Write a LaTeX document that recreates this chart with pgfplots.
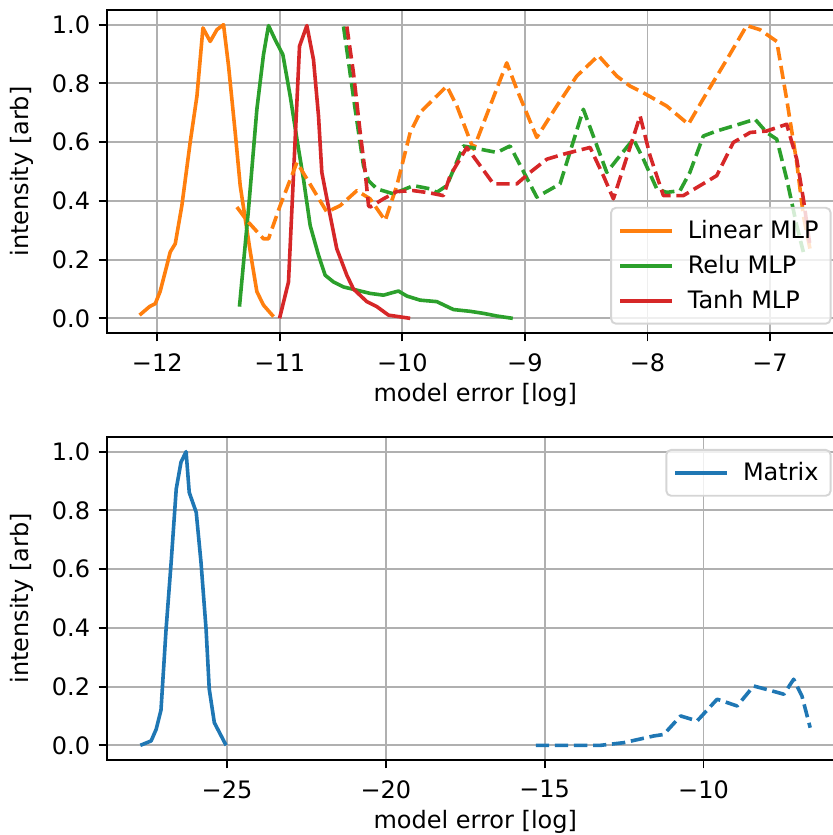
\documentclass[border=0pt]{standalone}
\usepackage{pgfplots}
\pgfplotsset{compat=1.18}
\usepackage{fontspec}
\setmainfont{DejaVu Sans}
\definecolor{tabblue}{HTML}{1F77B4}
\definecolor{taborange}{HTML}{FF7F0E}
\definecolor{tabgreen}{HTML}{2CA02C}
\definecolor{tabred}{HTML}{D62728}
\definecolor{gridgray}{HTML}{B0B0B0}
\definecolor{legendgray}{HTML}{D5D5D5}
\begin{document}
\begin{tikzpicture}[font=\fontsize{10}{12}\selectfont]
\pgfplotsset{
  mpl/.style={
    scale only axis, width=306.9pt, height=134.6pt,
    axis line style={line width=0.8pt, black},
    grid=major, major grid style={line width=0.8pt, color=gridgray},
    tick align=outside, tick pos=left, major tick length=3.5pt,
    every tick/.style={line width=0.8pt, black},
    ymin=-0.05, ymax=1.05, ytick={0,0.2,0.4,0.6,0.8,1.0},
    yticklabels={0.0,0.2,0.4,0.6,0.8,1.0},
    xticklabel style={yshift=-1.5pt},
    ylabel={intensity [arb]}, xlabel={model error [log]},
    every axis y label/.style={at={(axis description cs:-0.1154,0.5)}, rotate=90, anchor=center},
    every axis x label/.style={at={(axis description cs:0.5,-0.192)}, anchor=center},
    legend image code/.code={\draw[##1, line width=1.5pt] (0pt,0pt) -- (21.7pt,0pt);},
    legend cell align=left,
    every axis plot/.append style={line width=1.5pt, line join=round},
    mpldash/.style={dash pattern=on 5.55pt off 2.4pt},
  },
}
\begin{axis}[mpl, at={(0pt,0pt)}, anchor=north west,
  xmin=-12.41, xmax=-6.40,
  xtick={-12,-11,-10,-9,-8,-7},
  xticklabels={−12,−11,−10,−9,−8,−7},
  legend style={at={(axis description cs:1,0)}, anchor=south east, xshift=-5pt, yshift=3.5pt,
    draw=legendgray, line width=0.8pt, rounded corners=2pt, fill=white, fill opacity=0.8, text opacity=1,
    inner xsep=3pt, inner ysep=3pt, row sep=1.5pt, column sep=3.75pt},
]
% Linear MLP solid
\addplot[taborange] coordinates {
(-12.144,0.011) (-12.063,0.04) (-12.016,0.05) (-11.976,0.092) (-11.921,0.181) (-11.894,0.226) (-11.853,0.254) (-11.799,0.384) (-11.731,0.600) (-11.676,0.757) (-11.627,0.989) (-11.568,0.943) (-11.513,0.983) (-11.459,1.0) (-11.418,0.859) (-11.364,0.634) (-11.323,0.452) (-11.282,0.339) (-11.241,0.227) (-11.187,0.091) (-11.133,0.045) (-11.051,0.006)
};
\addlegendentry{Linear MLP}
% Relu MLP solid
\addplot[tabgreen] coordinates {
(-11.329,0.040) (-11.255,0.373) (-11.187,0.712) (-11.133,0.898) (-11.092,0.997) (-11.038,0.949) (-10.975,0.898) (-10.915,0.757) (-10.860,0.610) (-10.807,0.475) (-10.752,0.316) (-10.684,0.215) (-10.630,0.147) (-10.562,0.124) (-10.480,0.107) (-10.371,0.096) (-10.263,0.085) (-10.154,0.079) (-10.086,0.087) (-10.032,0.093) (-9.963,0.076) (-9.855,0.062) (-9.719,0.057) (-9.583,0.030) (-9.447,0.024) (-9.338,0.017) (-9.229,0.008) (-9.099,0.0)
};
\addlegendentry{Relu MLP}
% Tanh MLP solid
\addplot[tabred] coordinates {
(-11.002,0.0) (-10.929,0.124) (-10.839,0.927) (-10.779,0.997) (-10.725,0.881) (-10.684,0.689) (-10.657,0.497) (-10.589,0.35) (-10.535,0.237) (-10.453,0.147) (-10.399,0.10) (-10.290,0.057) (-10.208,0.04) (-10.113,0.011) (-9.936,0.0)
};
\addlegendentry{Tanh MLP}
% dashed
\addplot[taborange, mpldash, forget plot] coordinates {
(-11.350,0.379) (-11.268,0.333) (-11.133,0.271) (-11.092,0.271) (-10.997,0.384) (-10.860,0.531) (-10.779,0.475) (-10.616,0.362) (-10.507,0.384) (-10.371,0.435) (-10.263,0.407) (-10.140,0.333) (-10.045,0.452) (-9.936,0.633) (-9.855,0.701) (-9.637,0.791) (-9.555,0.723) (-9.420,0.576) (-9.148,0.870) (-9.066,0.780) (-8.903,0.616) (-8.740,0.723) (-8.577,0.825) (-8.400,0.895) (-8.250,0.825) (-8.142,0.791) (-8.033,0.768) (-7.843,0.723) (-7.666,0.661) (-7.516,0.768) (-7.353,0.881) (-7.190,0.997) (-7.082,0.983) (-6.945,0.943) (-6.864,0.746) (-6.782,0.531) (-6.728,0.350) (-6.674,0.237)
};
\addplot[tabgreen, mpldash, forget plot] coordinates {
(-10.480,0.994) (-10.385,0.712) (-10.317,0.520) (-10.276,0.469) (-10.208,0.441) (-10.073,0.424) (-9.909,0.452) (-9.773,0.441) (-9.719,0.429) (-9.637,0.452) (-9.502,0.587) (-9.365,0.576) (-9.229,0.565) (-9.121,0.587) (-8.903,0.413) (-8.713,0.458) (-8.523,0.712) (-8.332,0.497) (-8.224,0.554) (-8.115,0.610) (-8.033,0.542) (-7.924,0.441) (-7.843,0.429) (-7.734,0.435) (-7.654,0.497) (-7.544,0.621) (-7.435,0.638) (-7.299,0.655) (-7.122,0.678) (-7.027,0.633) (-6.945,0.610) (-6.864,0.475) (-6.782,0.316) (-6.728,0.226)
};
\addplot[tabred, mpldash, forget plot] coordinates {
(-10.453,0.994) (-10.399,0.836) (-10.344,0.633) (-10.303,0.497) (-10.276,0.384) (-10.263,0.379) (-10.154,0.407) (-10.045,0.432) (-9.909,0.435) (-9.773,0.427) (-9.665,0.418) (-9.610,0.486) (-9.474,0.582) (-9.365,0.520) (-9.257,0.458) (-9.066,0.458) (-8.958,0.497) (-8.821,0.542) (-8.686,0.559) (-8.468,0.582) (-8.360,0.486) (-8.278,0.407) (-8.060,0.689) (-7.979,0.554) (-7.870,0.418) (-7.707,0.418) (-7.571,0.452) (-7.435,0.486) (-7.299,0.599) (-7.162,0.633) (-7.027,0.638) (-6.864,0.661) (-6.782,0.542) (-6.728,0.407) (-6.674,0.248)
};
\end{axis}
\begin{axis}[mpl, at={(0pt,-177.9pt)}, anchor=north west,
  xmin=-28.78, xmax=-5.59,
  xtick={-25,-20,-15,-10},
  xticklabels={−25,−20,−15,−10},
  legend style={at={(axis description cs:1,1)}, anchor=north east, xshift=-5pt, yshift=-5pt,
    draw=legendgray, line width=0.8pt, rounded corners=2pt, fill=white, fill opacity=0.8, text opacity=1,
    inner xsep=3pt, inner ysep=3pt, row sep=1.5pt, column sep=3.75pt},
]
\addplot[tabblue] coordinates {
(-27.73,0.0) (-27.39,0.015) (-27.23,0.055) (-27.08,0.12) (-26.92,0.395) (-26.76,0.623) (-26.60,0.873) (-26.45,0.964) (-26.29,1.0) (-26.19,0.861) (-25.97,0.793) (-25.82,0.623) (-25.66,0.395) (-25.56,0.191) (-25.40,0.077) (-25.03,0.0)
};
\addlegendentry{Matrix}
\addplot[tabblue, mpldash, forget plot] coordinates {
(-15.28,0.0) (-14.29,0.0) (-13.24,0.0) (-12.51,0.009) (-11.56,0.032) (-11.25,0.037) (-10.72,0.10) (-10.20,0.083) (-9.57,0.157) (-8.94,0.134) (-8.42,0.202) (-8.0,0.19) (-7.47,0.174) (-7.16,0.225) (-6.90,0.168) (-6.64,0.06)
};
\end{axis}
\pgfresetboundingbox
\useasboundingbox (-44.58pt,4.17pt) rectangle (302.5pt,-343.75pt);
\end{tikzpicture}
\end{document}
